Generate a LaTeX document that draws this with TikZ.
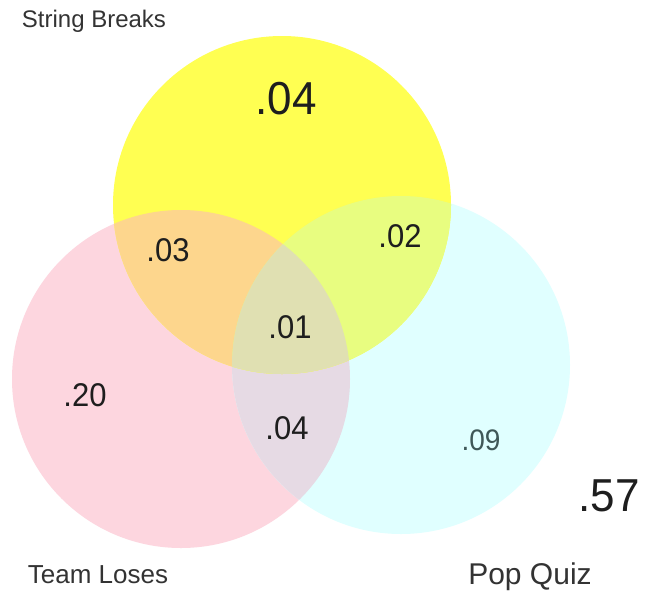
\documentclass[tikz,border=0pt]{standalone}
\usepackage{fontspec}
\setmainfont{Liberation Sans}
\definecolor{cYel}{HTML}{FFFF52}
\definecolor{cPink}{HTML}{FDD6DF}
\definecolor{cCyan}{HTML}{E0FFFF}
\definecolor{cYP}{HTML}{FDD68D}
\definecolor{cYC}{HTML}{E8FD80}
\definecolor{cPC}{HTML}{E6DAE4}
\definecolor{cAll}{HTML}{E0E0B2}
\definecolor{cTxt}{HTML}{1E1E1E}
\definecolor{cLbl}{HTML}{333333}
\definecolor{cNine}{HTML}{3F5858}
\tikzset{
  big/.style={inner sep=0pt, text=cTxt, font=\fontsize{44}{48}\selectfont, yscale=1.05},
  mid/.style={inner sep=0pt, text=cTxt, font=\fontsize{31}{34}\selectfont, yscale=1.06},
  lbl/.style={inner sep=0pt, text=cLbl},
}
\begin{document}
\begin{tikzpicture}[x=1pt,y=-1pt]
\useasboundingbox (0,0) rectangle (650,595);
\fill[white] (0,0) rectangle (650,595);
\def\R{169}
\coordinate (Y) at (282,205);
\coordinate (P) at (181,379);
\coordinate (C) at (401,365);
% base circles
\fill[cPink] (P) circle (\R);
\fill[cCyan] (C) circle (\R);
\begin{scope}
  \clip (P) circle (\R);
  \fill[cPC] (C) circle (\R);
\end{scope}
\fill[cYel] (Y) circle (\R);
\begin{scope}
  \clip (Y) circle (\R);
  \fill[cYP] (P) circle (\R);
  \fill[cYC] (C) circle (\R);
  \clip (P) circle (\R);
  \fill[cAll] (C) circle (\R);
\end{scope}
% numbers
\node[big] (nS) at (286,99) {.04};
\node[mid] (nSP) at (168,250) {.03};
\node[mid] (nSC) at (400,236) {.02};
\node[mid] (nAll) at (290,327) {.01};
\node[mid] (nP) at (85,395) {.20};
\node[mid] (nPC) at (287,428) {.04};
\node[mid, text=cNine, font=\fontsize{28}{32}\selectfont] (nC) at (481,440) {.09};
\node[big] (nOut) at (609,496) {.57};
% labels
\node[lbl, font=\fontsize{24}{27}\selectfont] (lS) at (94,21) {String Breaks};
\node[lbl, font=\fontsize{26}{29}\selectfont] (lP) at (98,575) {Team Loses};
\node[lbl, font=\fontsize{30}{33}\selectfont] (lC) at (530,577) {Pop Quiz};
\end{tikzpicture}
\end{document}
